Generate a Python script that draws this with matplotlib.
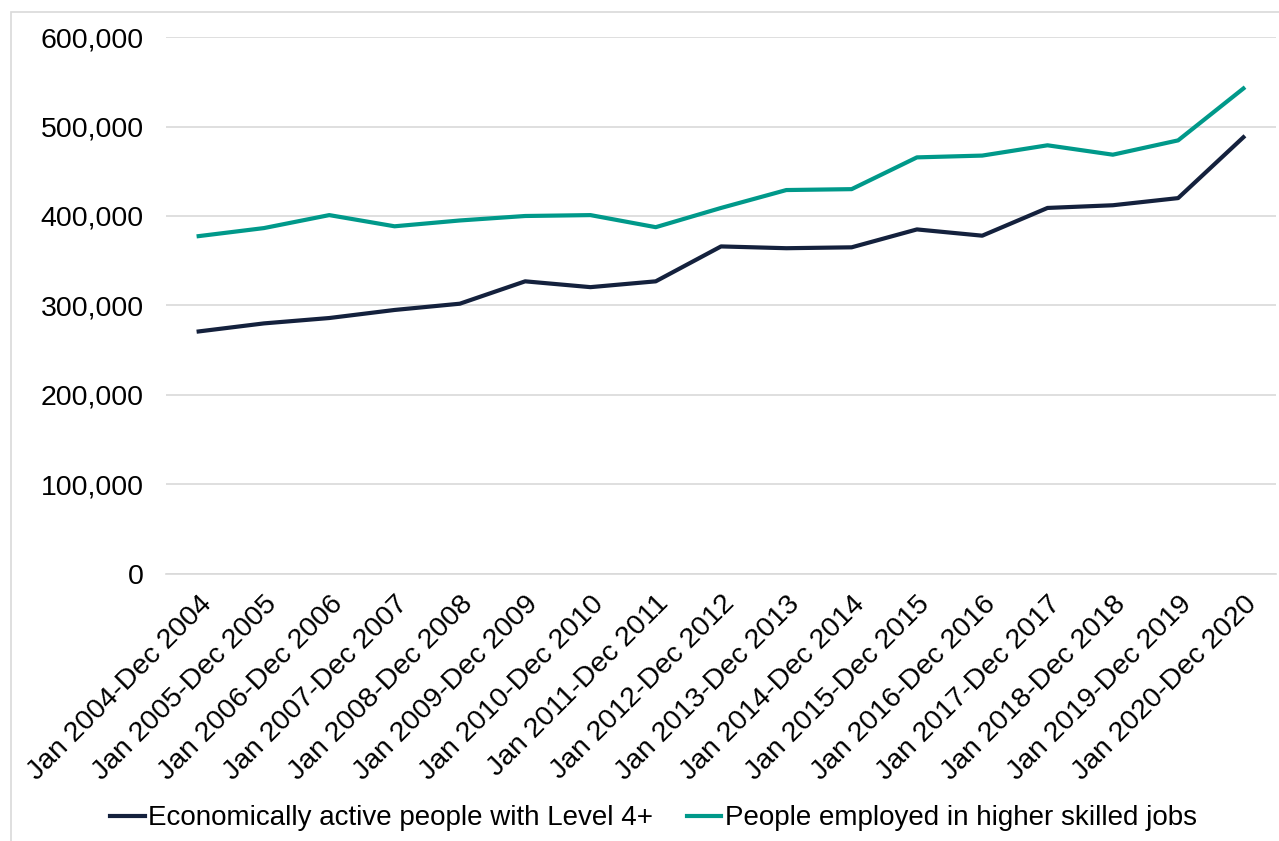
import numpy as np
import matplotlib.pyplot as plt
from matplotlib.patches import Rectangle
from matplotlib.ticker import FuncFormatter

years = list(range(2004, 2021))
periods = ["Jan %d-Dec %d" % (y, y) for y in years]
level4 = [271000, 280000, 286000, 295000, 302000, 327000, 320500, 327000, 366000,
          364000, 365000, 385000, 378000, 409000, 412000, 420000, 488000]
higher_skilled = [377500, 386500, 401000, 388500, 395000, 400000, 401000, 387500, 409000,
                  429000, 430000, 465500, 467500, 479000, 468500, 484500, 542500]

plt.rcParams['font.family'] = ['Liberation Sans', 'DejaVu Sans']

fig = plt.figure(figsize=(12.79, 8.41), dpi=100)
fig.patches.append(Rectangle((11/1279, -0.1), 1.2, 1 - 12/841 + 0.1, transform=fig.transFigure,
                             facecolor='none', edgecolor='#d9d9d9', linewidth=1.2))
ax = fig.add_axes([0.1298, 0.3175, 0.8679, 0.6385])

x = np.arange(len(periods))
ax.plot(x, level4, color='#14213d', linewidth=3, label='Economically active people with Level 4+')
ax.plot(x, higher_skilled, color='#00998a', linewidth=3, label='People employed in higher skilled jobs')

ax.set_xlim(-0.5, len(periods) - 0.5)
ax.set_ylim(0, 600000)
ax.set_yticks(np.arange(0, 600001, 100000))
ax.yaxis.set_major_formatter(FuncFormatter(lambda v, p: '{:,.0f}'.format(v)))
ax.set_xticks(x)
ax.set_xticklabels(periods, rotation=45, ha='right', rotation_mode='anchor')
ax.tick_params(axis='both', length=0, labelsize=20.5, colors='black')
ax.tick_params(axis='y', pad=16)
ax.tick_params(axis='x', pad=12)
ax.grid(axis='y', color='#d9d9d9', linewidth=1.2)
ax.set_axisbelow(True)
for s in ax.spines.values():
    s.set_visible(False)
ax.spines['bottom'].set_visible(True)
ax.spines['bottom'].set_color('#d9d9d9')
ax.spines['bottom'].set_linewidth(1.2)

fig.legend(loc='center', bbox_to_anchor=(0.511, 0.027), ncol=2, frameon=False, fontsize=20,
           handlelength=1.25, handletextpad=0.12, columnspacing=1.2)

fig.savefig('out.png', dpi=100)
